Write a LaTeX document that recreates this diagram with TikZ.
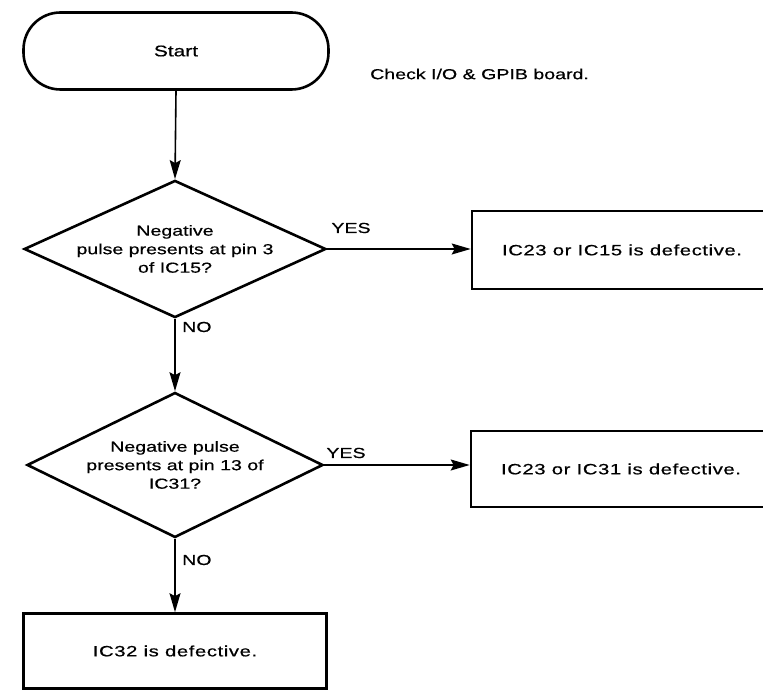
\documentclass[tikz,border=0pt]{standalone}
\usepackage{fontspec}
\setmainfont{Liberation Sans}[FakeStretch=1.35, FakeBold=0.6]
\usetikzlibrary{shapes.geometric,arrows.meta}

\begin{document}
\begin{tikzpicture}[x=1pt,y=1pt,
  font=\fontsize{14.5}{18.5}\selectfont,
  terminal/.style={draw, line width=2.6pt, rounded corners=37pt,
    minimum width=305pt, minimum height=77pt,
    font=\fontsize{15.5}{18.5}\selectfont},
  decision/.style={draw, diamond, line width=2.6pt, aspect=2.2,
    inner sep=0pt, align=center},
  result/.style={draw, rectangle, line width=2.6pt, minimum width=300pt,
    align=center, font=\fontsize{15}{18.5}\selectfont\addfontfeature{LetterSpace=4}},
  flow/.style={line width=1.6pt, -{Stealth[length=19pt,width=11pt,inset=3pt]}},
  tag/.style={inner sep=0pt}]
\useasboundingbox (0,0) rectangle (763,691);

% terminal and note
\node[terminal] (start) at (176,640) {Start};
\node[tag, anchor=west] (note) at (370,617) {Check I/O \& GPIB board.};

% first test
\node[decision, minimum width=299pt, minimum height=137pt] (d1) at (175,442)
  {Negative\\pulse presents at pin 3\\of IC15?};
\node[result, minimum height=78pt] (r1) at (622,441) {IC23 or IC15 is defective.};

% second test
\node[decision, minimum width=296pt, minimum height=145pt] (d2) at (175,226)
  {Negative pulse\\presents at pin 13 of\\IC31?};
\node[result, minimum height=76pt] (r2) at (621,222) {IC23 or IC31 is defective.};

% final result
\node[result, minimum width=303pt, minimum height=75pt] (r3) at (175,40)
  {IC32 is defective.};

% connectors
\draw[flow] (start.south) -- (d1.north);
\draw[flow] (d1.east) -- (d1.east -| r1.west);
\draw[flow] (d1.south) -- (d2.north);
\draw[flow] (d2.east) -- (d2.east -| r2.west);
\draw[flow] (d2.south) -- (r3.north);

% branch labels
\node[tag] (yes1) at (351,463) {YES};
\node[tag, anchor=west] (no1) at (182,364) {NO};
\node[tag] (yes2) at (346,238) {YES};
\node[tag, anchor=west] (no2) at (182,131) {NO};
\end{tikzpicture}
\end{document}
